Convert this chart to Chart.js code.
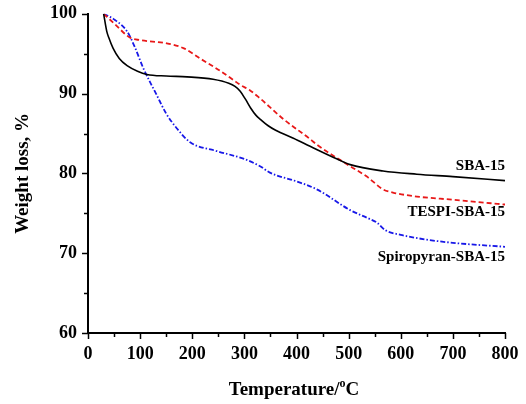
<!DOCTYPE html>
<html>
<head>
<meta charset="utf-8">
<script src="https://cdn.jsdelivr.net/npm/chart.js@4.4.0/dist/chart.umd.min.js"></script>
<style>
  html, body { margin: 0; padding: 0; background: #fff; }
  #wrap { width: 526px; height: 404px; }
</style>
</head>
<body>
<div id="wrap"><canvas id="tgaChart" width="526" height="404"></canvas></div>
<script>
// TGA curves (temperature in °C, weight in %)
const sbaTemp = [30, 36, 40, 48, 60, 75, 95, 113, 150, 190, 240, 270, 282, 292, 302, 312, 322, 332, 345, 360, 394, 426, 478, 503, 566, 631, 700, 800];
const sbaWeight = [100, 97.8, 97.0, 95.7, 94.4, 93.5, 92.8, 92.4, 92.2, 92.1, 91.8, 91.3, 90.9, 90.3, 89.3, 88.2, 87.3, 86.7, 86.0, 85.4, 84.4, 83.4, 81.8, 81.1, 80.3, 79.9, 79.6, 79.1];

const tespiTemp = [30, 50, 81, 100, 151, 183, 215, 250, 279, 292, 311, 330, 375, 426, 439, 503, 535, 566, 585, 631, 700, 800];
const tespiWeight = [100, 98.8, 97.0, 96.7, 96.3, 95.7, 94.4, 93.0, 91.7, 91.1, 90.4, 89.4, 86.8, 84.3, 83.6, 80.9, 79.6, 78.0, 77.6, 77.1, 76.7, 76.1];

const spiroTemp = [30, 50, 75, 90, 106, 132, 150, 171, 196, 247, 300, 330, 349, 400, 439, 503, 540, 555, 570, 600, 650, 700, 800];
const spiroWeight = [100, 99.3, 97.8, 95.8, 93.2, 89.8, 87.5, 85.6, 83.9, 82.8, 81.8, 80.9, 80.1, 79.0, 78.0, 75.4, 74.3, 73.8, 72.9, 72.3, 71.7, 71.3, 70.8];

const seriesNames = ['SBA-15', 'TESPI-SBA-15', 'Spiropyran-SBA-15'];
const seriesLabelY = [80.9, 75.1, 69.5];

const xTicks = [0, 100, 200, 300, 400, 500, 600, 700, 800];
const yTicks = [60, 70, 80, 90, 100];

const serif = "'Liberation Serif', 'Times New Roman', serif";

function toPoints(xs, ys) {
    return xs.map((x, i) => ({ x: x, y: ys[i] }));
}

// minor ticks, axis titles and curve labels
const decorations = {
    id: 'decorations',
    afterDraw(chart) {
        const ctx = chart.ctx;
        const xs = chart.scales.x;
        const ys = chart.scales.y;
        const area = chart.chartArea;
        ctx.save();
        ctx.strokeStyle = '#000';
        ctx.lineWidth = 1.5;
        for (let v = 60; v <= 100; v += 5) {
            const py = Math.round(ys.getPixelForValue(v)) + 0.5;
            const len = v % 10 === 0 ? 6 : 4;
            ctx.beginPath();
            ctx.moveTo(area.left - len, py);
            ctx.lineTo(area.left, py);
            ctx.stroke();
        }
        for (let v = 0; v <= 800; v += 50) {
            const px = Math.round(xs.getPixelForValue(v)) + 0.5;
            const len = v % 100 === 0 ? 6 : 4;
            ctx.beginPath();
            ctx.moveTo(px, area.bottom);
            ctx.lineTo(px, area.bottom + len);
            ctx.stroke();
        }

        ctx.fillStyle = '#000';
        // curve labels
        ctx.font = 'bold 15px ' + serif;
        ctx.textAlign = 'right';
        ctx.textBaseline = 'middle';
        seriesNames.forEach((name, i) => {
            ctx.fillText(name, area.right, ys.getPixelForValue(seriesLabelY[i]));
        });

        // y title
        ctx.font = 'bold 19px ' + serif;
        ctx.save();
        ctx.translate(23, (area.top + area.bottom) / 2);
        ctx.rotate(-Math.PI / 2);
        ctx.textAlign = 'center';
        ctx.fillText('Weight loss, %', 0, 0);
        ctx.restore();

        // x title with superscript degree
        const main1 = 'Temperature/';
        const sup = 'o';
        const main2 = 'C';
        ctx.font = 'bold 19px ' + serif;
        const w1 = ctx.measureText(main1).width;
        const w3 = ctx.measureText(main2).width;
        ctx.font = 'bold 12px ' + serif;
        const w2 = ctx.measureText(sup).width;
        const total = w1 + w2 + w3;
        let x0 = 294 - total / 2;
        const yBase = 395;
        ctx.textAlign = 'left';
        ctx.textBaseline = 'alphabetic';
        ctx.font = 'bold 19px ' + serif;
        ctx.fillText(main1, x0, yBase);
        ctx.font = 'bold 12px ' + serif;
        ctx.fillText(sup, x0 + w1, yBase - 8);
        ctx.font = 'bold 19px ' + serif;
        ctx.fillText(main2, x0 + w1 + w2, yBase);
        ctx.restore();
    }
};

function drawChart() {
    const ctx = document.getElementById('tgaChart').getContext('2d');
    new Chart(ctx, {
        type: 'line',
        data: {
            datasets: [{
                label: seriesNames[0],
                data: toPoints(sbaTemp, sbaWeight),
                borderColor: '#000000',
                borderWidth: 1.6
            }, {
                label: seriesNames[1],
                data: toPoints(tespiTemp, tespiWeight),
                borderColor: 'rgb(232, 24, 24)',
                borderWidth: 1.8,
                borderDash: [5, 3]
            }, {
                label: seriesNames[2],
                data: toPoints(spiroTemp, spiroWeight),
                borderColor: 'rgb(24, 24, 232)',
                borderWidth: 1.8,
                borderDash: [5, 2, 1.5, 2]
            }]
        },
        options: {
            responsive: false,
            animation: false,
            events: [],
            layout: { padding: { top: 13, right: 21, left: 0, bottom: 0 } },
            elements: {
                point: { radius: 0 },
                line: { cubicInterpolationMode: 'monotone', fill: false }
            },
            plugins: {
                legend: { display: false },
                tooltip: { enabled: false }
            },
            scales: {
                x: {
                    type: 'linear',
                    min: 0,
                    max: 800,
                    afterFit: s => { s.height = 71; },
                    afterBuildTicks: s => { s.ticks = xTicks.map(v => ({ value: v })); },
                    grid: { display: false },
                    border: { display: true, color: '#000', width: 2 },
                    ticks: {
                        color: '#000',
                        padding: 3,
                        maxRotation: 0,
                        font: { family: serif, size: 18, weight: 'bold' }
                    }
                },
                y: {
                    min: 60,
                    max: 100,
                    afterFit: s => { s.width = 88; },
                    afterBuildTicks: s => { s.ticks = yTicks.map(v => ({ value: v })); },
                    grid: { display: false },
                    border: { display: true, color: '#000', width: 2 },
                    ticks: {
                        color: '#000',
                        padding: 3,
                        font: { family: serif, size: 18, weight: 'bold' }
                    }
                }
            }
        },
        plugins: [decorations]
    });
}

document.addEventListener('DOMContentLoaded', drawChart);
</script>
</body>
</html>
